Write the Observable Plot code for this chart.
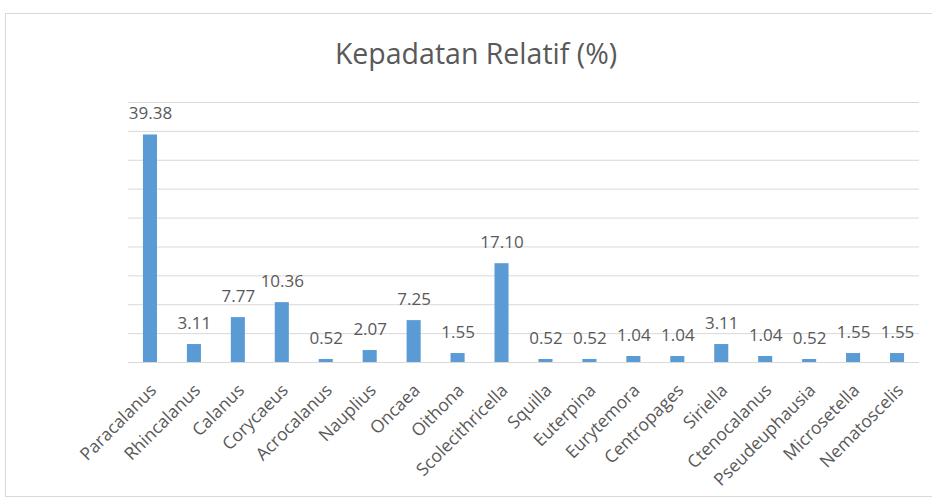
<!DOCTYPE html>
<html>
<head>
<meta charset="utf-8">
<script src="https://cdn.jsdelivr.net/npm/d3@7"></script>
<script src="https://cdn.jsdelivr.net/npm/@observablehq/plot@0.6"></script>
<style>
  html, body { margin: 0; padding: 0; background: #fff; }
  #wrap { position: relative; width: 932px; height: 503px; overflow: hidden; font-family: "Open Sans", sans-serif; }
  #frame { position: absolute; left: 5px; top: 13px; width: 960px; height: 484px; border: 1px solid #d9d9d9; box-sizing: border-box; }
  #title { position: absolute; left: 0; top: 34px; width: 952px; text-align: center; font-size: 28.5px; color: #595959; line-height: 38px; }
  #chart { position: absolute; left: 0; top: 90px; }
</style>
</head>
<body>
<div id="wrap">
  <div id="frame"></div>
  <div id="title">Kepadatan Relatif (%)</div>
  <div id="chart"></div>
</div>
<script>
const categories = ["Paracalanus","Rhincalanus","Calanus","Corycaeus","Acrocalanus","Nauplius","Oncaea","Oithona","Scolecithricella","Squilla","Euterpina","Eurytemora","Centropages","Siriella","Ctenocalanus","Pseudeuphausia","Microsetella","Nematoscelis"];
const values = [39.38,3.11,7.77,10.36,0.52,2.07,7.25,1.55,17.10,0.52,0.52,1.04,1.04,3.11,1.04,0.52,1.55,1.55];
const gridValues = [5,10,15,20,25,30,35,40,45];

const data = categories.map((c, i) => ({name: c, value: values[i], label: values[i].toFixed(2)}));

const chart = Plot.plot({
  width: 932,
  height: 413,
  marginLeft: 128,
  marginRight: 13,
  marginTop: 12,
  marginBottom: 141,
  style: {fontFamily: "Open Sans, sans-serif", color: "#595959", background: "transparent"},
  x: {domain: categories, paddingInner: 0.68, paddingOuter: 0.34, round: false, label: null},
  y: {domain: [0, 45], label: null},
  marks: [
    Plot.ruleY(gridValues, {stroke: "#d9d9d9", strokeWidth: 1}),
    Plot.ruleY([0], {stroke: "#d9d9d9", strokeWidth: 1}),
    Plot.barY(data, {x: "name", y: "value", fill: "#5B9BD5"}),
    Plot.text(data, {x: "name", y: "value", text: "label", dy: -21, fontSize: 17, fill: "#595959"}),
    Plot.axisX({tickRotate: -45, tickSize: 0, tickPadding: 25, dx: 3, fontSize: 17.5, fill: "#595959", label: null}),
    Plot.axisY({ticks: [], label: null, tickSize: 0})
  ]
});
document.getElementById("chart").appendChild(chart);
</script>
</body>
</html>
